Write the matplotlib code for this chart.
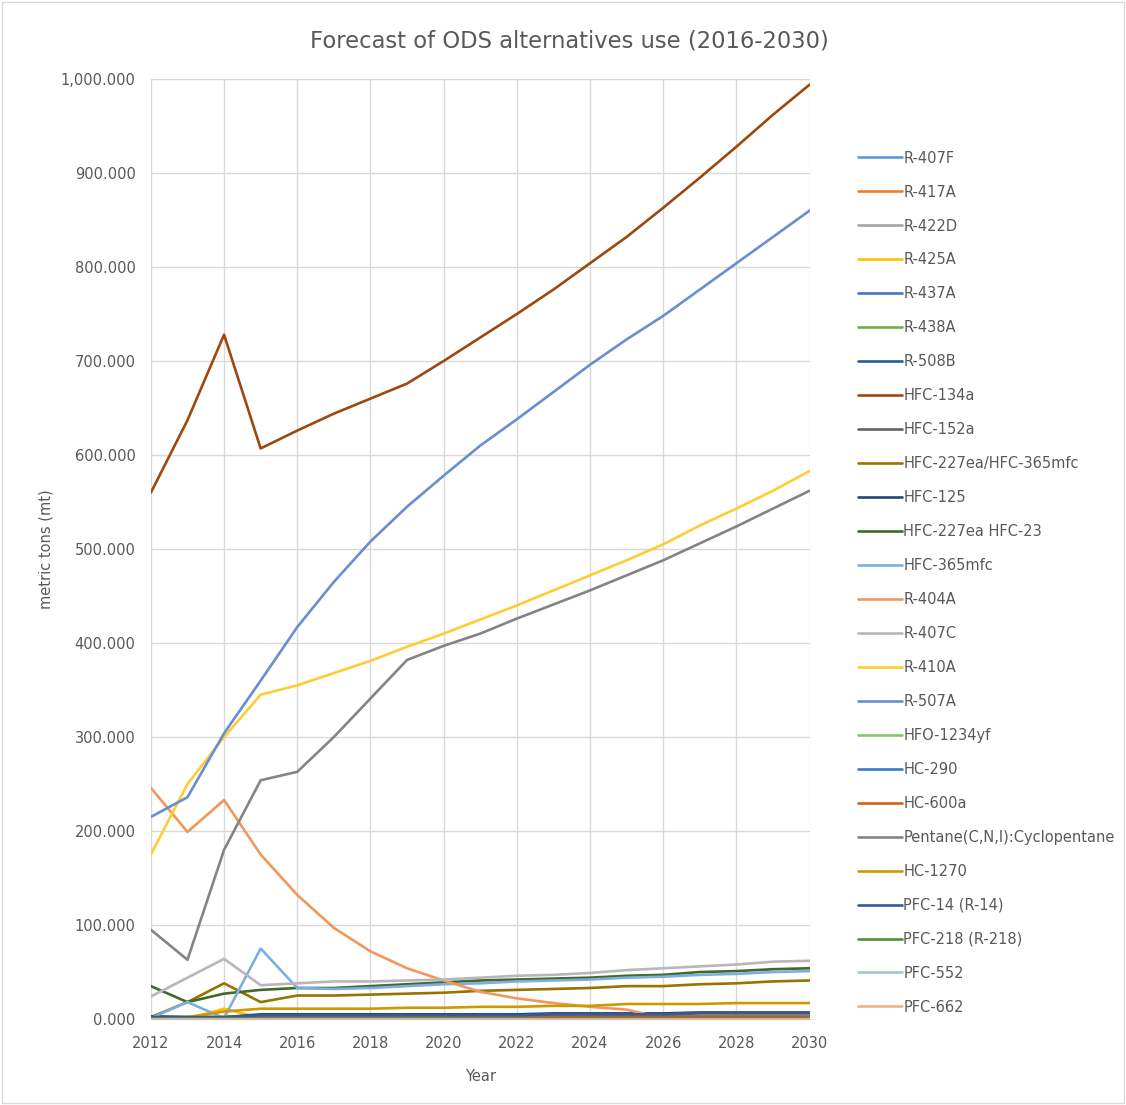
import matplotlib.pyplot as plt
import matplotlib.ticker as mticker
from matplotlib.patches import Rectangle

# years on the x axis
years = list(range(2012, 2031))

# series names (legend order)
names = ['R-407F', 'R-417A', 'R-422D', 'R-425A', 'R-437A', 'R-438A', 'R-508B',
         'HFC-134a', 'HFC-152a', 'HFC-227ea/HFC-365mfc', 'HFC-125', 'HFC-227ea HFC-23',
         'HFC-365mfc', 'R-404A', 'R-407C', 'R-410A', 'R-507A', 'HFO-1234yf', 'HC-290',
         'HC-600a', 'Pentane(C,N,I):Cyclopentane', 'HC-1270', 'PFC-14 (R-14)',
         'PFC-218 (R-218)', 'PFC-552', 'PFC-662']

colors = ['#5B9BD5', '#ED7D31', '#A5A5A5', '#FFC000', '#4472C4', '#70AD47', '#255E91',
          '#9E480E', '#636363', '#997300', '#264478', '#43682B',
          '#7CAFDD', '#F1975A', '#B7B7B7', '#FFCD33', '#698ED0', '#8CC168', '#327DC2',
          '#D26012', '#848484', '#CC9A00', '#335AA1',
          '#5A8A39', '#9DC3E6', '#F4B183']

# values (metric tons)
r407f = [1, 1, 1, 1, 1, 1, 1, 1, 1, 1, 1, 1, 1, 1, 1, 1, 1, 1, 1]
r417a = [0, 0, 0, 1, 1, 1, 1, 1, 1, 1, 1, 1, 1, 1, 1, 1, 1, 1, 1]
r422d = [0, 0, 0, 0, 0, 0, 0, 0, 0, 0, 0, 0, 0, 0, 0, 0, 0, 0, 0]
r425a = [0, 0, 11, 1, 1, 1, 1, 1, 1, 1, 1, 1, 1, 1, 1, 1, 1, 1, 1]
r437a = [0, 0, 0, 0, 0, 0, 0, 0, 0, 0, 0, 0, 0, 0, 0, 0, 0, 0, 0]
r438a = [0, 0, 0, 0, 0, 0, 0, 0, 0, 0, 0, 0, 0, 0, 0, 0, 0, 0, 0]
r508b = [1, 1, 1, 2, 2, 2, 2, 2, 2, 2, 2, 2, 2, 2, 2, 2, 2, 2, 2]
hfc134a = [560, 637, 728, 607, 626, 644, 660, 676, 700, 725, 750, 776, 804, 832, 863,
           895, 928, 962, 994]
hfc152a = [2, 2, 2, 3, 3, 3, 3, 3, 3, 3, 3, 3, 3, 3, 3, 3, 3, 3, 3]
hfc227_365 = [2, 18, 38, 18, 25, 25, 26, 27, 28, 30, 31, 32, 33, 35, 35, 37, 38, 40, 41]
hfc125 = [3, 2, 2, 5, 5, 5, 5, 5, 5, 5, 5, 6, 6, 6, 6, 7, 7, 7, 7]
hfc227_23 = [35, 18, 27, 31, 33, 33, 35, 37, 39, 41, 42, 43, 44, 46, 47, 50, 51, 53, 54]
hfc365 = [1, 18, 1, 75, 33, 32, 33, 35, 37, 38, 40, 41, 42, 44, 45, 47, 48, 50, 51]
r404a = [246, 199, 233, 175, 132, 97, 72, 54, 41, 29, 22, 17, 13, 10, 1, 1, 1, 1, 1]
r407c = [24, 44, 64, 36, 38, 40, 40, 41, 42, 44, 46, 47, 49, 52, 54, 56, 58, 61, 62]
r410a = [175, 250, 300, 345, 355, 368, 381, 396, 410, 425, 440, 456, 472, 488, 505,
         525, 543, 562, 583]
r507a = [215, 236, 304, 360, 417, 465, 508, 545, 578, 610, 638, 667, 696, 723, 748,
         776, 804, 832, 860]
hfo1234yf = [0, 0, 0, 0, 0, 0, 0, 0, 0, 0, 0, 0, 0, 0, 0, 0, 0, 0, 0]
hc290 = [1, 1, 1, 2, 2, 2, 2, 2, 2, 2, 2, 2, 2, 2, 2, 2, 2, 2, 2]
hc600a = [2, 2, 2, 3, 3, 3, 3, 3, 3, 3, 3, 3, 3, 3, 3, 3, 3, 3, 3]
pentane = [95, 63, 180, 254, 263, 300, 341, 382, 397, 410, 426, 441, 456, 472, 488,
           506, 524, 543, 562]
hc1270 = [0, 2, 8, 11, 11, 11, 11, 12, 12, 13, 13, 14, 14, 16, 16, 16, 17, 17, 17]
pfc14 = [2, 2, 2, 4, 4, 4, 4, 4, 4, 4, 4, 5, 5, 5, 5, 6, 6, 6, 6]
pfc218 = [1, 1, 1, 1, 1, 1, 1, 1, 1, 1, 1, 1, 1, 1, 1, 1, 1, 1, 1]
pfc552 = [0, 0, 0, 0, 0, 0, 0, 0, 0, 0, 0, 0, 0, 0, 0, 0, 0, 0, 0]
pfc662 = [0, 0, 0, 0, 0, 0, 0, 0, 0, 0, 0, 0, 0, 0, 0, 0, 0, 0, 0]

series = [r407f, r417a, r422d, r425a, r437a, r438a, r508b, hfc134a, hfc152a,
          hfc227_365, hfc125, hfc227_23, hfc365, r404a, r407c, r410a, r507a,
          hfo1234yf, hc290, hc600a, pentane, hc1270, pfc14, pfc218, pfc552, pfc662]

fig = plt.figure(figsize=(11.26, 11.05), dpi=100)
# light border round the whole picture
fig.patches.append(Rectangle((0.002, 0.002), 0.996, 0.996, transform=fig.transFigure,
                             fill=False, edgecolor='#D9D9D9', lw=1))
ax = fig.add_axes([0.134, 0.0778, 0.585, 0.8507])

for name, vals, c in zip(names, series, colors):
    ax.plot(years, vals, color=c, lw=1.9, label=name, solid_capstyle='round')

ax.set_xlim(2012, 2030)
ax.set_ylim(0, 1000)
ax.set_xticks(range(2012, 2031, 2))
ax.set_yticks(range(0, 1001, 100))
ax.yaxis.set_major_formatter(mticker.FuncFormatter(lambda v, p: f'{v:,.3f}'))
ax.grid(True, color='#D9D9D9', lw=1)
ax.set_axisbelow(True)
for s in ['top', 'right', 'left']:
    ax.spines[s].set_visible(False)
ax.spines['bottom'].set_color('#BFBFBF')
ax.tick_params(axis='y', length=0, labelsize=10.5, colors='#595959', pad=11)
ax.tick_params(axis='x', length=0, labelsize=10.5, colors='#595959', pad=12)

# title is centred on the whole chart, not the plot area
ax.set_title('Forecast of ODS alternatives use (2016-2030)', fontsize=16.3,
             color='#595959', pad=23, x=0.636)
ax.set_xlabel('Year', fontsize=10.5, color='#595959', labelpad=13)
ax.set_ylabel('metric tons (mt)', fontsize=10.5, color='#595959', labelpad=5)

leg = fig.legend(loc='upper left', bbox_to_anchor=(0.757, 0.869), frameon=False,
                 fontsize=10.5, labelspacing=1.30, handlelength=3.0, handletextpad=0.1,
                 borderaxespad=0)
for t in leg.get_texts():
    t.set_color('#595959')

plt.savefig('out.png', dpi=100)
